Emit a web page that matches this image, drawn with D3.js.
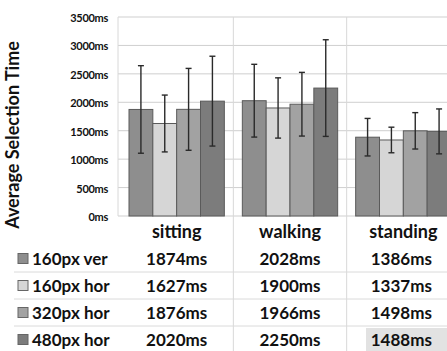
<!DOCTYPE html>
<html><head><meta charset="utf-8">
<script src="https://cdn.jsdelivr.net/npm/d3@7"></script>
<style>body{margin:0;background:#fff}svg{display:block}text{font-family:Lato,"Open Sans",sans-serif;font-weight:bold;fill:#111}</style>
</head><body>
<script>
const categories = ["sitting", "walking", "standing"];
const seriesNames = ["160px ver", "160px hor", "320px hor", "480px hor"];
const means = [
  [1874, 2028, 1386],
  [1627, 1900, 1337],
  [1876, 1966, 1498],
  [2020, 2250, 1488]
];
const errors = [
  [770, 640, 330],
  [500, 530, 225],
  [720, 560, 320],
  [790, 850, 395]
];
const yTicks = [0, 500, 1000, 1500, 2000, 2500, 3000, 3500];
const colors = ["#8e8e8e", "#d6d6d6", "#a2a2a2", "#7c7c7c"];

const W = 447, H = 351;
const svg = d3.select("body").append("svg").attr("width", W).attr("height", H);

const x = d3.scaleBand().domain(categories).range([120, 460]);
const xi = d3.scaleBand().domain(d3.range(seriesNames.length)).range([9, x.bandwidth() - 9]);
const y = d3.scaleLinear().domain([0, 3500]).range([216, 17]);

// gridlines
svg.append("g").selectAll("line").data(yTicks).join("line")
  .attr("x1", 118).attr("x2", W).attr("y1", d => y(d)).attr("y2", d => y(d))
  .attr("stroke", "#cfcfcf").attr("stroke-width", 1);
svg.append("line").attr("x1", 118).attr("x2", 118).attr("y1", y(3500)).attr("y2", y(0)).attr("stroke", "#d8d8d8");
svg.append("g").selectAll("line").data(categories.slice(1)).join("line")
  .attr("x1", d => x(d)).attr("x2", d => x(d)).attr("y1", y(3500)).attr("y2", H)
  .attr("stroke", "#d8d8d8");

// y tick labels
const yAxis = d3.axisLeft(y).tickValues(yTicks).tickSize(0).tickPadding(0).tickFormat(d => d + "ms");
const ga = svg.append("g").attr("transform", "translate(108,1)").call(yAxis);
ga.select(".domain").remove();
ga.selectAll("text").style("font-size", "11px").style("font-family", "Lato, sans-serif").style("font-weight", "bold").attr("fill", "#222").style("letter-spacing", "-0.3px");

// y title
svg.append("text").attr("transform", "translate(19,135) rotate(-90)")
  .attr("text-anchor", "middle").style("font-size", "18px").text("Average Selection Time");

// bars
const rows = [];
seriesNames.forEach((s, i) => categories.forEach((c, j) => rows.push({i, c, v: means[i][j], e: errors[i][j]})));
svg.append("g").selectAll("rect").data(rows).join("rect")
  .attr("x", d => x(d.c) + xi(d.i)).attr("width", xi.bandwidth())
  .attr("y", d => y(d.v)).attr("height", d => y(0) - y(d.v))
  .attr("fill", d => colors[d.i]).attr("stroke", "#5a5a5a").attr("stroke-width", 1);

// error bars
const eg = svg.append("g").attr("stroke", "#2a2a2a").attr("stroke-width", 1.4);
rows.forEach(d => {
  const cx = x(d.c) + xi(d.i) + xi.bandwidth() / 2;
  eg.append("line").attr("x1", cx).attr("x2", cx).attr("y1", y(d.v + d.e)).attr("y2", y(d.v - d.e));
  [d.v + d.e, d.v - d.e].forEach(v => eg.append("line").attr("x1", cx - 3).attr("x2", cx + 3).attr("y1", y(v)).attr("y2", y(v)));
});

// table
const rowY = d3.scalePoint().domain(["head", ...seriesNames]).range([232, 340]);
svg.append("g").selectAll("text").data(categories).join("text")
  .attr("x", d => x(d) + x.bandwidth() / 2).attr("y", rowY("head")).attr("dy", "0.35em")
  .attr("text-anchor", "middle").style("font-size", "18px").text(d => d);

svg.append("g").selectAll("line").data(seriesNames.slice(1)).join("line")
  .attr("x1", 14).attr("x2", W).attr("y1", d => rowY(d) - 14).attr("y2", d => rowY(d) - 14)
  .attr("stroke", "#dadada");

svg.append("rect").attr("x", 366).attr("y", 328).attr("width", 81).attr("height", 23).attr("fill", "#e2e2e2");

seriesNames.forEach((s, i) => {
  const yy = rowY(s);
  svg.append("rect").attr("x", 18).attr("y", yy - 5.5).attr("width", 10).attr("height", 10)
    .attr("fill", colors[i]).attr("stroke", "#666").attr("stroke-width", 1);
  svg.append("text").attr("x", 32).attr("y", yy).attr("dy", "0.35em").style("font-size", "17px").text(s);
  categories.forEach((c, j) => {
    svg.append("text").attr("x", x(c) + x.bandwidth() / 2 - (j === 2 ? 2 : 0)).attr("y", yy).attr("dy", "0.35em")
      .attr("text-anchor", "middle").style("font-size", "17px").text(means[i][j] + "ms");
  });
});
</script>
</body></html>
